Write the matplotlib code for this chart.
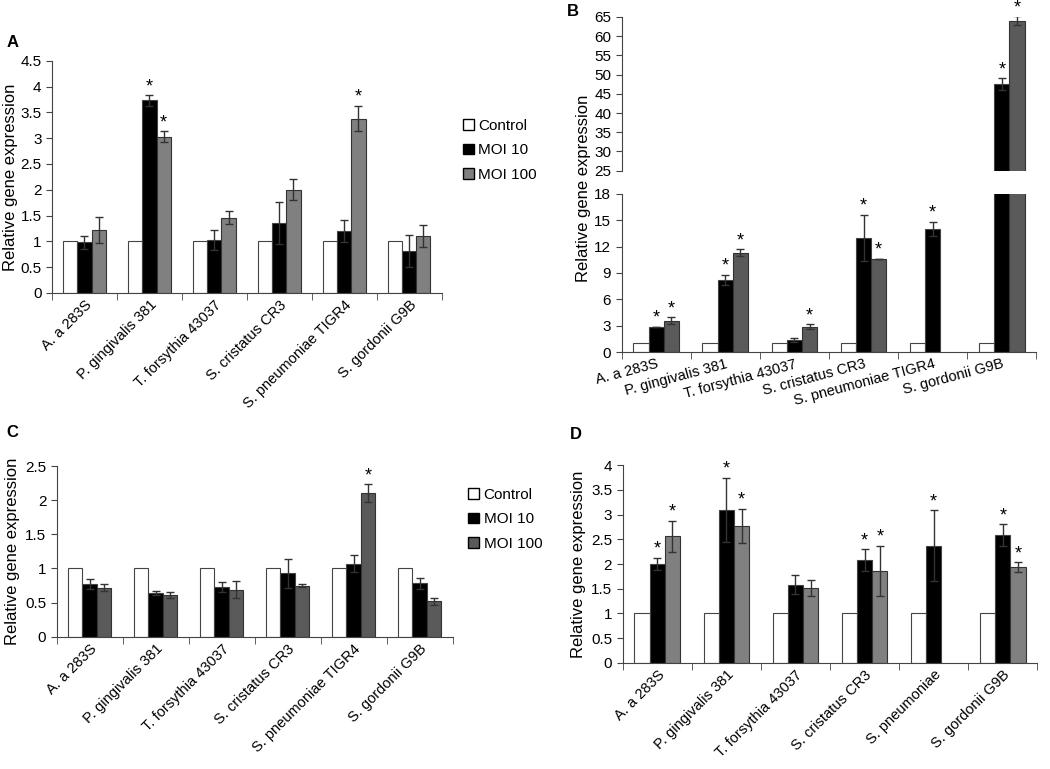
import numpy as np
import matplotlib.pyplot as plt
from matplotlib.patches import Patch
from matplotlib.ticker import FormatStrFormatter

plt.rcParams['font.family'] = ['Liberation Sans', 'DejaVu Sans']
plt.rcParams['font.size'] = 10

strains = ['A. a 283S', 'P. gingivalis 381', 'T. forsythia 43037',
           'S. cristatus CR3', 'S. pneumoniae TIGR4', 'S. gordonii G9B']
strains_d = ['A. a 283S', 'P. gingivalis 381', 'T. forsythia 43037',
             'S. cristatus CR3', 'S. pneumoniae', 'S. gordonii G9B']
nan = np.nan

# panel A
a_ctrl = [1, 1, 1, 1, 1, 1]
a_m10 = [0.98, 3.73, 1.03, 1.36, 1.20, 0.81]
a_m10_err = [0.12, 0.10, 0.20, 0.41, 0.22, 0.31]
a_m100 = [1.22, 3.03, 1.46, 2.00, 3.38, 1.10]
a_m100_err = [0.26, 0.10, 0.12, 0.20, 0.25, 0.21]
a_sig10 = [0, 1, 0, 0, 0, 0]
a_sig100 = [0, 1, 0, 0, 1, 0]

# panel B
b_ctrl = [1, 1, 1, 1, 1, 1]
b_m10 = [2.9, 8.2, 1.4, 13.0, 14.0, 47.6]
b_m10_err = [0.0, 0.6, 0.2, 2.6, 0.8, 1.5]
b_m100 = [3.6, 11.3, 2.9, 10.6, nan, 64.0]
b_m100_err = [0.35, 0.4, 0.25, 0.0, nan, 1.2]
b_sig10 = [1, 1, 0, 1, 1, 1]
b_sig100 = [1, 1, 1, 1, 0, 1]

# panel C
c_ctrl = [1, 1, 1, 1, 1, 1]
c_m10 = [0.77, 0.64, 0.73, 0.93, 1.07, 0.78]
c_m10_err = [0.07, 0.03, 0.07, 0.21, 0.12, 0.08]
c_m100 = [0.72, 0.61, 0.69, 0.75, 2.10, 0.52]
c_m100_err = [0.05, 0.04, 0.12, 0.02, 0.13, 0.05]
c_sig10 = [0, 0, 0, 0, 0, 0]
c_sig100 = [0, 0, 0, 0, 1, 0]

# panel D
d_ctrl = [1, 1, 1, 1, 1, 1]
d_m10 = [2.00, 3.10, 1.58, 2.08, 2.37, 2.59]
d_m10_err = [0.13, 0.65, 0.19, 0.22, 0.72, 0.22]
d_m100 = [2.56, 2.77, 1.51, 1.86, nan, 1.94]
d_m100_err = [0.32, 0.35, 0.16, 0.51, nan, 0.10]
d_sig10 = [1, 1, 0, 1, 1, 1]
d_sig100 = [1, 1, 0, 1, 0, 1]

light_gray = '#808080'
dark_gray = '#5a5a5a'
W = 0.22


def bars(ax, ctrl, m10, e10, m100, e100, s10, s100, col100):
    x = np.arange(len(ctrl))
    ax.bar(x - W, ctrl, W, color='white', edgecolor='#444', linewidth=0.8)
    ax.bar(x, m10, W, color='black', edgecolor='#444', linewidth=0.8)
    ax.bar(x + W, m100, W, color=col100, edgecolor='#333', linewidth=0.8)
    ax.errorbar(x, m10, yerr=e10, fmt='none', ecolor='#333', elinewidth=1, capsize=3)
    ax.errorbar(x + W, m100, yerr=e100, fmt='none', ecolor='#333', elinewidth=1, capsize=3)
    for i in range(len(ctrl)):
        for xx, v, e, s in [(x[i], m10[i], e10[i], s10[i]),
                            (x[i] + W, m100[i], e100[i], s100[i])]:
            if s:
                top = v + (e if not np.isnan(e) else 0)
                ax.annotate('*', (xx, top), xytext=(0, 0), textcoords='offset points',
                            ha='center', va='bottom', fontsize=13, annotation_clip=False)


def style(ax, ylim, yticks, labels=None, rot=45, ha='right', lsize=10.5):
    ax.set_xlim(-0.5, 5.5)
    ax.set_ylim(*ylim)
    ax.set_yticks(yticks)
    ax.yaxis.set_major_formatter(FormatStrFormatter('%g'))
    for s in ['top', 'right']:
        ax.spines[s].set_visible(False)
    ax.spines['left'].set_color('#444')
    ax.spines['bottom'].set_color('#444')
    ax.tick_params(axis='y', direction='out', length=4, color='#444', labelsize=11)
    ax.set_xticks(np.arange(6))
    ax.set_xticks(np.arange(-0.5, 6.0, 1), minor=True)
    ax.tick_params(axis='x', which='major', length=0)
    ax.tick_params(axis='x', which='minor', direction='out', length=5, color='#444')
    if labels is not None:
        ax.set_xticklabels(labels, rotation=rot, ha=ha, rotation_mode='anchor', fontsize=lsize)


fig = plt.figure(figsize=(10.5, 7.69), dpi=100)

# A
axA = fig.add_axes([0.0495, 0.619, 0.371, 0.302])
bars(axA, a_ctrl, a_m10, a_m10_err, a_m100, a_m100_err, a_sig10, a_sig100, light_gray)
style(axA, (0, 4.5), np.arange(0, 4.51, 0.5), strains)
axA.set_ylabel('Relative gene expression', fontsize=12, labelpad=2)

# B (broken axis)
axB1 = fig.add_axes([0.592, 0.542, 0.395, 0.206])
axB2 = fig.add_axes([0.592, 0.778, 0.395, 0.200])
for ax in (axB1, axB2):
    bars(ax, b_ctrl, b_m10, b_m10_err, b_m100, b_m100_err, b_sig10, b_sig100, dark_gray)
style(axB1, (0, 18), np.arange(0, 19, 3), strains, rot=15, lsize=10.5)
style(axB2, (25, 65), np.arange(25, 66, 5))
axB2.spines['bottom'].set_visible(False)
axB2.set_xticks([])
axB2.set_xticks([], minor=True)
# each star is kept only in the part of the broken axis where its bar ends
for t in list(axB1.texts):
    if t.xy[1] > 18:
        t.remove()
for t in list(axB2.texts):
    if t.xy[1] < 25:
        t.remove()
fig.text(0.556, 0.755, 'Relative gene expression', rotation=90, ha='center', va='center',
         fontsize=12)

# C
axC = fig.add_axes([0.054, 0.172, 0.377, 0.222])
bars(axC, c_ctrl, c_m10, c_m10_err, c_m100, c_m100_err, c_sig10, c_sig100, dark_gray)
style(axC, (0, 2.5), np.arange(0, 2.51, 0.5), strains)
axC.set_ylabel('Relative gene expression', fontsize=12)

# D
axD = fig.add_axes([0.593, 0.138, 0.395, 0.257])
bars(axD, d_ctrl, d_m10, d_m10_err, d_m100, d_m100_err, d_sig10, d_sig100, light_gray)
style(axD, (0, 4), np.arange(0, 4.01, 0.5), strains_d)
axD.set_ylabel('Relative gene expression', fontsize=12)

# legends
for col, anchor in [(light_gray, (0.428, 1 - 105 / 769)), (dark_gray, (0.433, 1 - 474 / 769))]:
    handles = [Patch(facecolor='white', edgecolor='black', label='Control'),
               Patch(facecolor='black', edgecolor='black', label='MOI 10'),
               Patch(facecolor=col, edgecolor='black', label='MOI 100')]
    fig.legend(handles=handles, loc='upper left', bbox_to_anchor=anchor, frameon=False,
               handlelength=0.7, handleheight=0.7, handletextpad=0.3, labelspacing=0.7,
               fontsize=11)

for lab, x, y in [('A', 0.006, 0.945), ('B', 0.540, 0.985), ('C', 0.006, 0.438), ('D', 0.543, 0.435)]:
    fig.text(x, y, lab, fontsize=12, fontweight='bold', ha='left', va='center')

fig.savefig('out.png', dpi=100)
